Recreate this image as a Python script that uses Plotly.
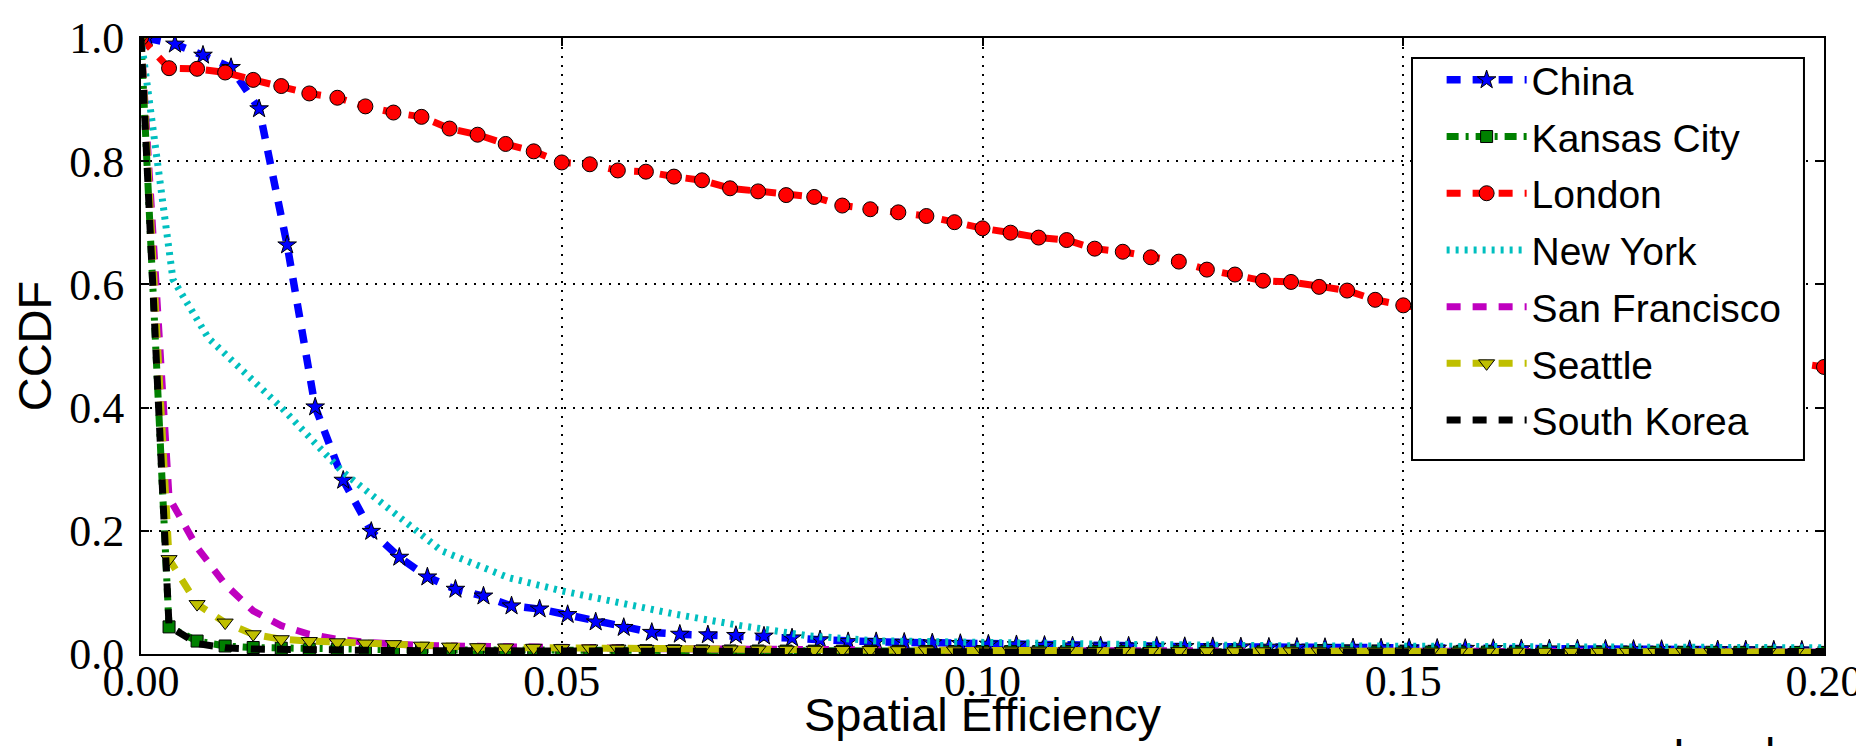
import plotly.graph_objects as go

# ---------------- data ----------------
# common bin grid: step 0.2/60
GRID = [k / 300 for k in range(61)]
CHINA_SHIFT = 0.0007  # China's bins sit slightly to the right

china = [1.0, 0.990, 0.972, 0.952, 0.885, 0.664, 0.401, 0.282, 0.199, 0.157,
         0.125, 0.105, 0.094, 0.078, 0.073, 0.064, 0.052, 0.043, 0.035, 0.032,
         0.031, 0.030, 0.029, 0.026, 0.023, 0.020, 0.020, 0.019, 0.018, 0.017,
         0.016, 0.015, 0.014, 0.013, 0.013, 0.0128, 0.0125, 0.012, 0.0118, 0.0115,
         0.011, 0.0108, 0.0105, 0.010, 0.0098, 0.0095, 0.0092, 0.009, 0.0088, 0.0085,
         0.0082, 0.008, 0.0078, 0.0075, 0.0073, 0.007, 0.0068, 0.0066, 0.0064, 0.0062,
         0.006]

kansas_city = [1.0, 0.044, 0.021, 0.013, 0.0105, 0.0094, 0.008, 0.0075, 0.0072, 0.007,
               0.0068, 0.0066, 0.0064, 0.0062, 0.006, 0.0058, 0.0056, 0.0055, 0.0054, 0.0052,
               0.005, 0.0049, 0.0048, 0.0047, 0.0046, 0.0045, 0.0044, 0.0043, 0.0042, 0.0041,
               0.004, 0.0039, 0.0039, 0.0038, 0.0038, 0.0037, 0.0037, 0.0036, 0.0036, 0.0035,
               0.0035, 0.0034, 0.0034, 0.0033, 0.0033, 0.0032, 0.0032, 0.0031, 0.0031, 0.003,
               0.003, 0.003, 0.0029, 0.0029, 0.0028, 0.0028, 0.0028, 0.0027, 0.0027, 0.0026,
               0.0026]

# London: bins 0..45 visible, 46..59 hidden behind the legend, bin 60 at the right edge
london_bins = list(range(46)) + [60]
london = [1.0, 0.951, 0.950, 0.944, 0.932, 0.922, 0.910, 0.903, 0.889, 0.879,
          0.872, 0.853, 0.843, 0.828, 0.816, 0.798, 0.795, 0.785, 0.783, 0.775,
          0.769, 0.756, 0.751, 0.745, 0.742, 0.728, 0.722, 0.717, 0.711, 0.701,
          0.691, 0.684, 0.676, 0.672, 0.658, 0.653, 0.644, 0.637, 0.624, 0.616,
          0.606, 0.604, 0.596, 0.590, 0.575, 0.566, 0.466]

new_york_x = [0.0, 0.0038, 0.0080, 0.01235, 0.0167, 0.0203, 0.02385, 0.0278, 0.03177,
              0.03573, 0.0397, 0.04366, 0.0500, 0.0555, 0.0635, 0.0714, 0.0793, 0.0872,
              0.0991, 0.1150, 0.1350, 0.1600, 0.1800, 0.2000]
new_york = [1.0, 0.608, 0.513, 0.457, 0.400, 0.348, 0.297, 0.254, 0.2106,
            0.1674, 0.1457, 0.124, 0.1025, 0.0863, 0.0646, 0.0457, 0.0295, 0.0214,
            0.0187, 0.0159, 0.0135, 0.0120, 0.0110, 0.0100]

san_francisco = [1.0, 0.254, 0.173, 0.113, 0.070, 0.046, 0.032, 0.024, 0.019, 0.016,
                 0.014, 0.013, 0.012, 0.011, 0.0105, 0.010, 0.0095, 0.009, 0.0088, 0.0085,
                 0.008, 0.0078, 0.0075, 0.0072, 0.007, 0.0068, 0.0066, 0.0064, 0.0062, 0.006,
                 0.0058, 0.0056, 0.0055, 0.0054, 0.0052, 0.005, 0.0049, 0.0048, 0.0047, 0.0046,
                 0.0045, 0.0044, 0.0043, 0.0042, 0.0041, 0.004, 0.004, 0.0039, 0.0039, 0.0038,
                 0.0038, 0.0037, 0.0037, 0.0036, 0.0036, 0.0035, 0.0035, 0.0034, 0.0034, 0.0033,
                 0.0033]

seattle = [1.0, 0.154, 0.081, 0.051, 0.032, 0.024, 0.021, 0.019, 0.017, 0.016,
           0.0135, 0.012, 0.011, 0.0105, 0.010, 0.0095, 0.009, 0.0086, 0.0083, 0.008,
           0.0077, 0.0074, 0.0072, 0.007, 0.0068, 0.0066, 0.0064, 0.0062, 0.006, 0.0058,
           0.0056, 0.0055, 0.0054, 0.0052, 0.005, 0.0049, 0.0048, 0.0047, 0.0046, 0.0045,
           0.0044, 0.0043, 0.0042, 0.0041, 0.004, 0.004, 0.0039, 0.0039, 0.0038, 0.0038,
           0.0037, 0.0037, 0.0036, 0.0036, 0.0035, 0.0035, 0.0034, 0.0034, 0.0033, 0.0033,
           0.0032]

south_korea = [1.0, 0.045, 0.017, 0.010, 0.008, 0.007, 0.0065, 0.006, 0.0058, 0.0056,
               0.0054, 0.0052, 0.005, 0.0049, 0.0048, 0.0047, 0.0046, 0.0045, 0.0044, 0.0043,
               0.0042, 0.0041, 0.004, 0.0039, 0.0038, 0.0037, 0.0036, 0.0035, 0.0034, 0.0034,
               0.0033, 0.0033, 0.0032, 0.0032, 0.0031, 0.0031, 0.003, 0.003, 0.003, 0.0029,
               0.0029, 0.0029, 0.0028, 0.0028, 0.0028, 0.0027, 0.0027, 0.0027, 0.0026, 0.0026,
               0.0026, 0.0025, 0.0025, 0.0025, 0.0025, 0.0024, 0.0024, 0.0024, 0.0024, 0.0023,
               0.0023]

x_ticks = [0.0, 0.05, 0.10, 0.15, 0.20]
x_tick_labels = ["0.00", "0.05", "0.10", "0.15", "0.20"]
y_ticks = [0.0, 0.2, 0.4, 0.6, 0.8, 1.0]
y_tick_labels = ["0.0", "0.2", "0.4", "0.6", "0.8", "1.0"]

# ---------------- figure ----------------
SERIF = "Liberation Serif, DejaVu Serif, serif"
SANS = "Liberation Sans, Arial, sans-serif"
DASH = "14px,12px"

fig = go.Figure()


def add(name, x, y, color, dash, width=7, symbol=None, msize=12):
    mode = "lines+markers" if symbol else "lines"
    kw = dict(x=x, y=y, name=name, mode=mode, legendgroup=name,
              line=dict(color=color, width=width, dash=dash))
    if symbol:
        kw["marker"] = dict(symbol=symbol, size=msize, color=color,
                            line=dict(color="black", width=1))
    fig.add_trace(go.Scatter(**kw))


add("China", [g + CHINA_SHIFT for g in GRID[:len(china)]], china,
    "#0000ff", DASH, width=7.5, symbol="star", msize=14)
add("Kansas City", GRID[:len(kansas_city)], kansas_city,
    "#008000", "12px,7px,3px,7px", symbol="square", msize=12)
add("London", [GRID[k] for k in london_bins], london,
    "#ff0000", DASH, symbol="circle", msize=15)
add("New York", new_york_x, new_york, "#00bfbf", "3px,6px", width=7)
add("San Francisco", GRID[:len(san_francisco)], san_francisco, "#bf00bf", DASH)
add("Seattle", GRID[:len(seattle)], seattle,
    "#bfbf00", DASH, symbol="triangle-down", msize=14)
add("South Korea", GRID[:len(south_korea)], south_korea, "#000000", DASH)

axis_common = dict(
    showline=True, linecolor="black", linewidth=2, mirror="ticks",
    ticks="inside", ticklen=8, tickwidth=1.5, tickcolor="black",
    showgrid=True, gridcolor="black", gridwidth=2, griddash="2px,7px",
    zeroline=False, tickfont=dict(family=SERIF, size=44, color="black"),
)

fig.update_xaxes(range=[0, 0.2], tickvals=x_ticks, ticktext=x_tick_labels,
                 ticklabelstandoff=-13, **axis_common)
fig.update_yaxes(range=[0, 1.0], tickvals=y_ticks, ticktext=y_tick_labels,
                 ticklabelstandoff=6,
                 title=dict(text="CCDF", standoff=6,
                            font=dict(family=SANS, size=47, color="black")),
                 **axis_common)

# x-axis title
fig.add_annotation(text="Spatial Efficiency", xref="paper", yref="paper",
                   x=0.5, y=-0.098, xanchor="center", yanchor="middle",
                   showarrow=False, font=dict(family=SANS, size=47, color="black"))

# legend frame (white box with black border over the plot)
fig.add_shape(type="rect", xref="paper", yref="paper",
              x0=0.7552, x1=0.9881, y0=0.3149, y1=0.9675,
              line=dict(color="black", width=2), fillcolor="white", layer="above")

fig.add_annotation(text="London", xref="paper", yref="paper", x=1.003, y=-0.118,
                   xanchor="right", yanchor="top", showarrow=False,
                   font=dict(family=SANS, size=46, color="black"))

fig.update_layout(
    width=1864, height=746,
    margin=dict(l=133, r=48, t=30, b=100, autoexpand=False),
    paper_bgcolor="white", plot_bgcolor="white",
    legend=dict(x=0.7728, y=0.9838, xanchor="left", yanchor="top",
                bgcolor="rgba(0,0,0,0)", borderwidth=0,
                font=dict(family=SANS, size=39, color="black"),
                traceorder="grouped", tracegroupgap=3, itemwidth=80),
)

fig.write_html("out.html")
